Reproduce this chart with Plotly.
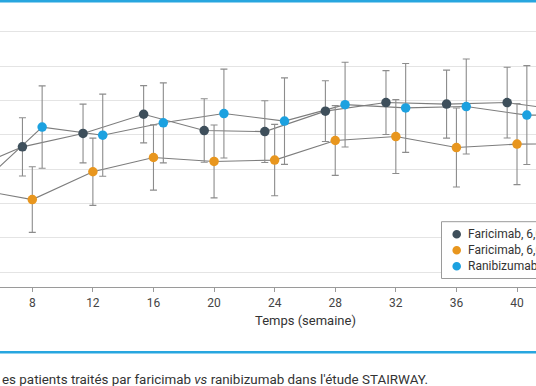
import plotly.graph_objects as go

# ---- data ----
weeks = [4, 8, 12, 16, 20, 24, 28, 32, 36, 40, 44]
week_ticks = [8, 12, 16, 20, 24, 28, 32, 36, 40]

series_names = [
    "Faricimab, 6,0 mg toutes les 16 semaines",
    "Faricimab, 6,0 mg toutes les 12 semaines",
    "Ranibizumab 0,5 mg toutes les 4 semaines",
]
faricimab_q16 = [5.78, 7.29, 8.07, 9.19, 8.24, 8.18, 9.37, 9.87, 9.78, 9.87, 9.39]
faricimab_q16_err = [1.6, 1.70, 1.71, 1.67, 1.85, 1.80, 1.77, 1.86, 1.98, 2.06, 2.05]
faricimab_q12 = [4.85, 4.22, 5.84, 6.67, 6.44, 6.52, 7.66, 7.89, 7.25, 7.45, 7.47]
faricimab_q12_err = [1.9, 1.91, 1.96, 1.90, 2.12, 2.08, 2.03, 2.15, 2.30, 2.36, 2.40]
ranibizumab = [5.16, 8.44, 7.97, 8.69, 9.23, 8.79, 9.75, 9.56, 9.64, 9.14, 9.15]
ranibizumab_err = [2.3, 2.40, 2.39, 2.33, 2.59, 2.52, 2.47, 2.59, 2.77, 2.88, 2.90]

colors = ["#3e4f5b", "#e8961e", "#1ca1e0"]
dodge = [-0.65, 0.0, 0.65]
values = [faricimab_q16, faricimab_q12, ranibizumab]
errors = [faricimab_q16_err, faricimab_q12_err, ranibizumab_err]

FONT = "Roboto, 'DejaVu Sans', sans-serif"
W, H = 536, 386
MB = 99
PH = H - MB  # plot height in px


def py2paper(py):
    return (PH - py) / PH


fig = go.Figure()

# connecting lines (grey)
for name, vals, dx in zip(series_names, values, dodge):
    fig.add_trace(go.Scatter(
        x=[w + dx for w in weeks], y=vals, mode="lines",
        line=dict(color="#7d7d7d", width=1.1),
        showlegend=False, hoverinfo="skip",
    ))

# markers with error bars
for name, vals, err, col, dx in zip(series_names, values, errors, colors, dodge):
    fig.add_trace(go.Scatter(
        x=[w + dx for w in weeks], y=vals, mode="markers", name=name,
        marker=dict(color=col, size=9.5, line=dict(width=0)),
        error_y=dict(type="data", array=err, visible=True,
                     color="#8c8c8c", thickness=1.1, width=3.5),
        showlegend=False,
    ))

fig.update_layout(
    width=W, height=H,
    margin=dict(l=0, r=0, t=0, b=MB, autoexpand=False),
    plot_bgcolor="white", paper_bgcolor="white",
    font=dict(family=FONT, color="#3a3a3a", size=12),
    showlegend=False,
    xaxis=dict(
        range=[5.868, 41.254], tickvals=week_ticks,
        showgrid=False, zeroline=False,
        showline=True, linecolor="#9a9a9a", linewidth=1.3,
        ticks="outside", ticklen=4, tickcolor="#9a9a9a", tickwidth=1,
        tickfont=dict(family=FONT, size=12, color="#444444"),
    ),
    yaxis=dict(
        range=[-0.873, 15.845], tick0=0, dtick=2,
        showticklabels=False, ticks="",
        showgrid=True, gridcolor="#e4e4e4", gridwidth=1.4,
        zeroline=False, showline=False,
    ),
)

# blue rules (top and bottom of the figure block)
for py, lw in [(1.2, 2.6), (352.3, 2.6)]:
    yp = py2paper(py)
    fig.add_shape(type="line", xref="paper", yref="paper",
                  x0=0, x1=1, y0=yp, y1=yp, layer="above",
                  line=dict(color="#27a6df", width=lw))

# ---- legend box (drawn by hand to match the compact row spacing) ----
fig.add_shape(type="rect", xref="paper", yref="paper",
              x0=441.5 / W, x1=1.2, y0=py2paper(278.5), y1=py2paper(221.7),
              line=dict(color="#9a9a9a", width=1), fillcolor="white", layer="above")
for i, (name, col) in enumerate(zip(series_names, colors)):
    ry = 234.3 + i * 16
    fig.add_shape(type="circle", xref="paper", yref="paper",
                  xsizemode="pixel", ysizemode="pixel",
                  xanchor=456.7 / W, yanchor=py2paper(ry),
                  x0=-4.3, x1=4.3, y0=-4.3, y1=4.3,
                  line=dict(width=0), fillcolor=col, layer="above")
    fig.add_annotation(text=name, xref="paper", yref="paper",
                       x=466 / W, y=py2paper(ry), xanchor="left", yanchor="middle",
                       showarrow=False,
                       font=dict(family=FONT, size=12, color="#333333"))

# axis title
fig.add_annotation(
    text="Temps (semaine)", xref="paper", yref="paper",
    x=305 / W, y=py2paper(320.5), xanchor="center", yanchor="middle",
    showarrow=False, font=dict(family=FONT, size=13, color="#333333"),
)
# caption
fig.add_annotation(
    text="es patients traités par faricimab <i>vs</i> ranibizumab dans l'étude STAIRWAY.",
    xref="paper", yref="paper", x=0, y=py2paper(379.3),
    xanchor="left", yanchor="middle", showarrow=False,
    font=dict(family=FONT, size=13.4, color="#333333"),
)

fig.write_html("out.html", config={"displayModeBar": False},
               post_script="document.body.style.margin='0';")
